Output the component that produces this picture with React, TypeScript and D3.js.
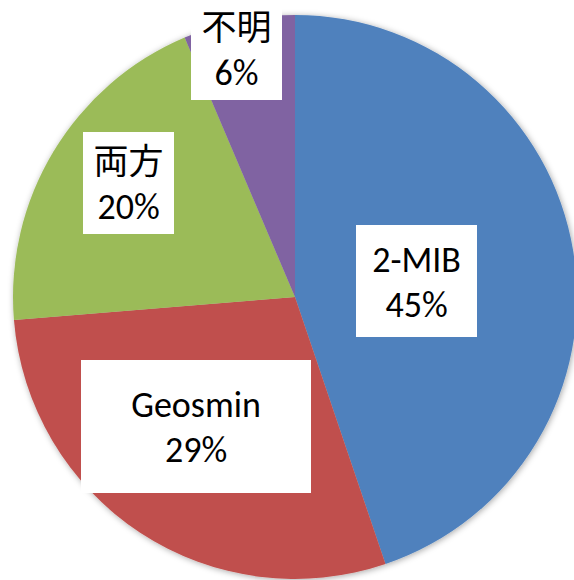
import React from "react";
import * as d3 from "d3";

const categories = ["2-MIB", "Geosmin", "両方", "不明"];
const values = [44.8, 28.9, 19.9, 6.4];
const colors = ["#4F81BD", "#C0504D", "#9BBB59", "#8064A2"];

// label box layout (relative to pie center): center offset and size
const labelBoxes = [
  { dx: 121.5, dy: -16, w: 121, h: 112 },
  { dx: -99, dy: 129.5, w: 230, h: 133 },
  { dx: -166.5, dy: -114, w: 91, h: 102 },
  { dx: -58.5, dy: -248, w: 91, h: 102 },
];

const W = 574;
const H = 580;
const CX = 295;
const CY = 297;
const R = 282;

export default function App() {
  const total = d3.sum(values);
  const pie = d3
    .pie<number>()
    .sort(null)
    .value((d) => d)
    .startAngle(0)
    .endAngle(2 * Math.PI);
  const arcs = pie(values);
  const arcGen = d3.arc<d3.PieArcDatum<number>>().innerRadius(0).outerRadius(R);
  const fmt = (v: number) => `${Math.round((v / total) * 100)}%`;
  const latin = "Carlito, Lato, 'Noto Sans', sans-serif";
  const cjk = "'Noto Sans CJK JP', 'Noto Sans', sans-serif";
  const isCJK = (s: string) => /[\u3000-\u9fff]/.test(s);

  return (
    <svg
      width={W}
      height={H}
      style={{ position: "absolute", left: 0, top: 0, background: "#fff" }}
    >
      <defs>
        <filter id="sh" x="-10%" y="-10%" width="120%" height="120%">
          <feDropShadow dx="1" dy="1" stdDeviation="3" floodColor="#000" floodOpacity="0.35" />
        </filter>
      </defs>
      <g transform={`translate(${CX},${CY})`}>
        <g filter="url(#sh)">
          {arcs.map((a, i) => (
            <path key={i} d={arcGen(a) || ""} fill={colors[i]} />
          ))}
        </g>
        {arcs.map((a, i) => {
          const b = labelBoxes[i];
          const name = categories[i];
          const cj = isCJK(name);
          return (
            <g key={"l" + i} transform={`translate(${b.dx},${b.dy})`}>
              <rect x={-b.w / 2} y={-b.h / 2} width={b.w} height={b.h} fill="#fff" />
              <text
                x={0}
                y={cj ? -9 : -9.5}
                textAnchor="middle"
                fontFamily={cj ? cjk : latin}
                fontSize={cj ? 35 : 36}
                fill="#000"
              >
                {name}
              </text>
              <text
                x={0}
                y={cj ? 36 : 35.5}
                textAnchor="middle"
                fontFamily={latin}
                fontSize={36}
                fill="#000"
              >
                {fmt(a.data)}
              </text>
            </g>
          );
        })}
      </g>
    </svg>
  );
}
